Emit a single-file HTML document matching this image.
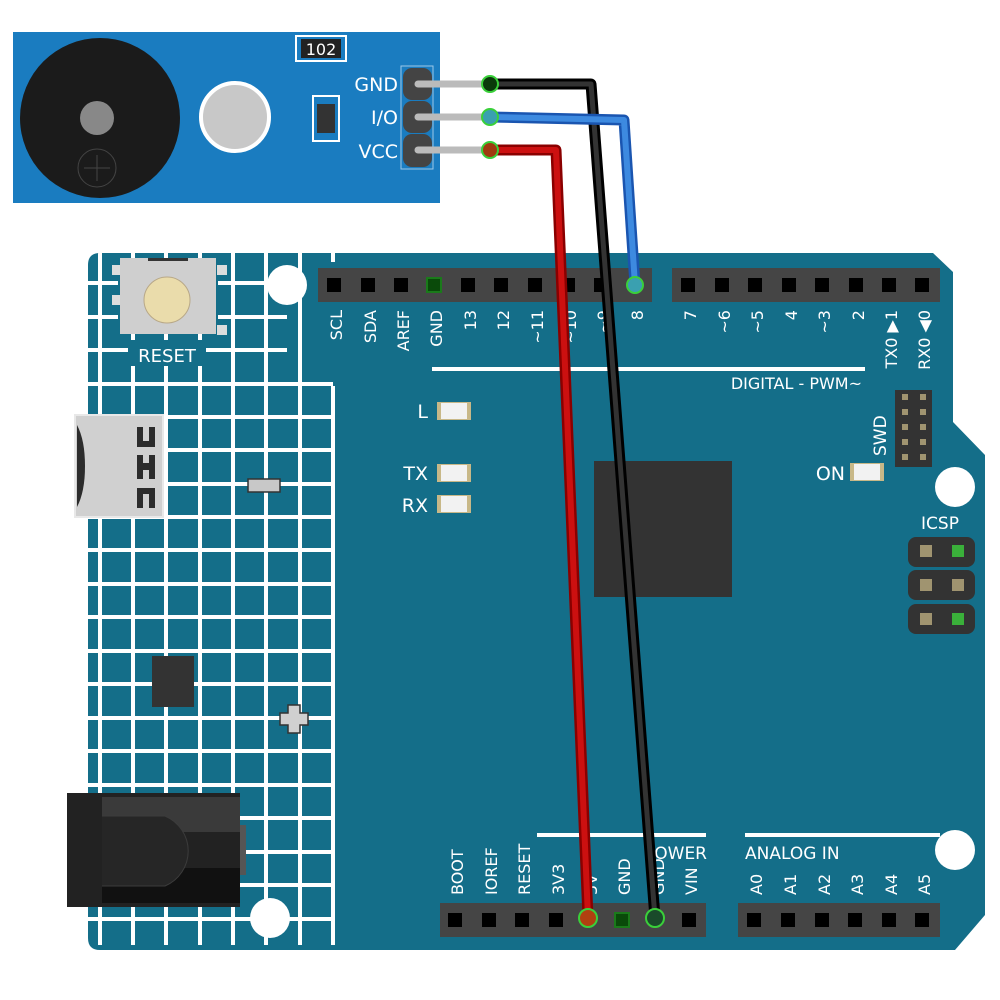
<!DOCTYPE html>
<html><head><meta charset="utf-8"><style>html,body{margin:0;padding:0;background:#fff}svg{display:block}text{font-family:"DejaVu Sans","Liberation Sans",sans-serif;fill:#fff}</style></head>
<body>
<svg width="1000" height="1000" viewBox="0 0 1000 1000" xmlns="http://www.w3.org/2000/svg">
<defs>
<clipPath id="bc"><path d="M100,253 H933 L953,272 V422 L985,455 V915 L955,950 H100 Q88,950 88,938 V265 Q88,253 100,253 Z"/></clipPath>
<g id="pin"><rect x="-15" y="-15" width="30" height="30" fill="#454545"/><rect x="-7" y="-7" width="14" height="14" fill="#000"/></g>
</defs>
<path d="M100,253 H933 L953,272 V422 L985,455 V915 L955,950 H100 Q88,950 88,938 V265 Q88,253 100,253 Z" fill="#146e89"/>
<g clip-path="url(#bc)" stroke="#fff" stroke-width="4">
<g>
<line x1="100" y1="253" x2="100" y2="945"/><line x1="133" y1="253" x2="133" y2="945"/><line x1="166" y1="253" x2="166" y2="945"/><line x1="200" y1="253" x2="200" y2="945"/><line x1="233" y1="253" x2="233" y2="945"/><line x1="266" y1="253" x2="266" y2="945"/><line x1="300" y1="253" x2="300" y2="945"/><line x1="333" y1="386" x2="333" y2="945"/><line x1="333" y1="253" x2="333" y2="262"/>
</g>
<g>
<line x1="88" y1="283" x2="287" y2="283"/><line x1="88" y1="317" x2="287" y2="317"/><line x1="88" y1="350" x2="287" y2="350"/><line x1="88" y1="384" x2="333" y2="384"/>
<line x1="88" y1="417" x2="333" y2="417"/><line x1="88" y1="450" x2="333" y2="450"/><line x1="88" y1="484" x2="333" y2="484"/><line x1="88" y1="517" x2="333" y2="517"/><line x1="88" y1="550" x2="333" y2="550"/><line x1="88" y1="584" x2="333" y2="584"/><line x1="88" y1="617" x2="333" y2="617"/><line x1="88" y1="651" x2="333" y2="651"/><line x1="88" y1="684" x2="333" y2="684"/><line x1="88" y1="718" x2="333" y2="718"/><line x1="88" y1="751" x2="333" y2="751"/><line x1="88" y1="785" x2="333" y2="785"/><line x1="88" y1="818" x2="333" y2="818"/><line x1="88" y1="852" x2="333" y2="852"/><line x1="88" y1="885" x2="333" y2="885"/><line x1="88" y1="919" x2="333" y2="919"/>
</g>
</g>
<rect x="118" y="260" width="100" height="66" fill="#146e89"/>
<rect x="112" y="265" width="10" height="10" fill="#ddd"/><rect x="112" y="295" width="10" height="10" fill="#ddd"/>
<rect x="217" y="265" width="10" height="10" fill="#ddd"/><rect x="217" y="325" width="10" height="10" fill="#ddd"/>
<rect x="120" y="258" width="96" height="76" fill="#cfcfcf"/>
<rect x="148" y="258" width="40" height="3" fill="#333"/>
<circle cx="167" cy="300" r="23" fill="#eadcab" stroke="#b8a888" stroke-width="1"/>
<rect x="128" y="340" width="78" height="26" fill="#146e89"/>
<text x="167" y="362" font-size="18" text-anchor="middle">RESET</text>
<rect x="75" y="415" width="88" height="102" fill="#d0d0d0" stroke="#e8e8e8" stroke-width="2"/>
<path d="M77,425 Q85,440 85,466 Q85,492 77,507 Z" fill="#2c2c2c"/>
<g fill="#2c2c2c"><path d="M137,427 h6 v14 h6 v-14 h6 v20 h-18 z"/><path d="M137,455 h6 v8 h6 v-8 h6 v24 h-6 v-9 h-6 v9 h-6 z"/><path d="M137,508 h6 v-14 h6 v14 h6 v-20 h-18 z"/></g>
<rect x="248" y="479" width="32" height="13" fill="#c8c8c8" stroke="#333" stroke-width="1.5"/>
<rect x="152" y="656" width="42" height="51" fill="#333"/>
<path d="M288,705 h12 v8 h8 v12 h-8 v8 h-12 v-8 h-8 v-12 h8 z" fill="#d0d0d0" stroke="#333" stroke-width="1.5"/>
<rect x="67" y="793" width="173" height="114" fill="#222"/>
<rect x="100" y="797" width="140" height="35" fill="#3a3a3a"/>
<rect x="100" y="868" width="140" height="35" fill="#111"/>
<path d="M100,816 H165 A38,38 0 0 1 165,886 H100 Z" fill="#262626" stroke="#3c3c3c" stroke-width="1"/>
<rect x="67" y="793" width="35" height="114" fill="#222"/>
<rect x="240" y="825" width="6" height="50" fill="#555"/>
<circle cx="287" cy="285" r="20" fill="#fff"/><circle cx="955" cy="487" r="20" fill="#fff"/><circle cx="955" cy="850" r="20" fill="#fff"/><circle cx="270" cy="918" r="20" fill="#fff"/>
<rect x="318" y="268" width="334" height="34" fill="#454545"/>
<rect x="672" y="268" width="268" height="34" fill="#454545"/>
<rect x="440" y="903" width="266" height="34" fill="#454545"/>
<rect x="738" y="903" width="202" height="34" fill="#454545"/>
<g>
<use href="#pin" x="334" y="285"/><use href="#pin" x="368" y="285"/><use href="#pin" x="401" y="285"/><use href="#pin" x="468" y="285"/><use href="#pin" x="501" y="285"/><use href="#pin" x="535" y="285"/><use href="#pin" x="568" y="285"/><use href="#pin" x="601" y="285"/>
<rect x="427" y="278" width="14" height="14" fill="#0a4a0a" stroke="#1a7a1a" stroke-width="2"/>
<use href="#pin" x="688" y="285"/><use href="#pin" x="722" y="285"/><use href="#pin" x="755" y="285"/><use href="#pin" x="789" y="285"/><use href="#pin" x="822" y="285"/><use href="#pin" x="856" y="285"/><use href="#pin" x="889" y="285"/><use href="#pin" x="922" y="285"/>
<use href="#pin" x="455" y="920"/><use href="#pin" x="489" y="920"/><use href="#pin" x="522" y="920"/><use href="#pin" x="556" y="920"/><use href="#pin" x="689" y="920"/>
<rect x="615" y="913" width="14" height="14" fill="#0a4a0a" stroke="#1a7a1a" stroke-width="2"/>
<use href="#pin" x="754" y="920"/><use href="#pin" x="788" y="920"/><use href="#pin" x="822" y="920"/><use href="#pin" x="855" y="920"/><use href="#pin" x="889" y="920"/><use href="#pin" x="922" y="920"/>
</g>
<g font-size="16" text-anchor="end">
<text transform="translate(342,310) rotate(-90)">SCL</text>
<text transform="translate(376,310) rotate(-90)">SDA</text>
<text transform="translate(409,310) rotate(-90)">AREF</text>
<text transform="translate(442,310) rotate(-90)">GND</text>
<text transform="translate(476,310) rotate(-90)">13</text>
<text transform="translate(509,310) rotate(-90)">12</text>
<text transform="translate(543,310) rotate(-90)">~11</text>
<text transform="translate(576,310) rotate(-90)">~10</text>
<text transform="translate(609,310) rotate(-90)">~9</text>
<text transform="translate(643,310) rotate(-90)">8</text>
<text transform="translate(696,310) rotate(-90)">7</text>
<text transform="translate(730,310) rotate(-90)">~6</text>
<text transform="translate(763,310) rotate(-90)">~5</text>
<text transform="translate(797,310) rotate(-90)">4</text>
<text transform="translate(830,310) rotate(-90)">~3</text>
<text transform="translate(864,310) rotate(-90)">2</text>
<text transform="translate(897,310) rotate(-90)">TX0 ▶1</text>
<text transform="translate(930,310) rotate(-90)">RX0 ◀0</text>
</g>
<rect x="432" y="367" width="433" height="4" fill="#fff"/>
<text x="862" y="389" font-size="16" text-anchor="end">DIGITAL - PWM~</text>
<g font-size="19">
<text x="428" y="418" text-anchor="end">L</text>
<text x="428" y="480" text-anchor="end">TX</text>
<text x="428" y="512" text-anchor="end">RX</text>
<text x="845" y="480" text-anchor="end">ON</text>
</g>
<g fill="#c8b888"><rect x="437" y="402" width="34" height="18"/><rect x="437" y="464" width="34" height="18"/><rect x="437" y="495" width="34" height="18"/><rect x="850" y="463" width="34" height="18"/></g>
<g fill="#f2f2f2"><rect x="441" y="403" width="26" height="16"/><rect x="441" y="465" width="26" height="16"/><rect x="441" y="496" width="26" height="16"/><rect x="854" y="464" width="26" height="16"/></g>
<rect x="594" y="461" width="138" height="136" fill="#333"/>
<rect x="895" y="390" width="37" height="77" fill="#333"/>
<g fill="#a09470"><rect x="902" y="394" width="6" height="6"/><rect x="920" y="394" width="6" height="6"/><rect x="902" y="409" width="6" height="6"/><rect x="920" y="409" width="6" height="6"/><rect x="902" y="424" width="6" height="6"/><rect x="920" y="424" width="6" height="6"/><rect x="902" y="439" width="6" height="6"/><rect x="920" y="439" width="6" height="6"/><rect x="902" y="454" width="6" height="6"/><rect x="920" y="454" width="6" height="6"/></g>
<text transform="translate(886,456) rotate(-90)" font-size="17">SWD</text>
<text x="940" y="529" font-size="17" text-anchor="middle">ICSP</text>
<g fill="#333"><rect x="908" y="537" width="67" height="30" rx="8"/><rect x="908" y="570" width="67" height="30" rx="8"/><rect x="908" y="604" width="67" height="30" rx="8"/></g>
<g fill="#a09470"><rect x="920" y="545" width="12" height="12"/><rect x="920" y="579" width="12" height="12"/><rect x="952" y="579" width="12" height="12"/><rect x="920" y="613" width="12" height="12"/></g>
<g fill="#3ab03a"><rect x="952" y="545" width="12" height="12"/><rect x="952" y="613" width="12" height="12"/></g>
<rect x="537" y="833" width="169" height="4" fill="#fff"/>
<rect x="745" y="833" width="195" height="4" fill="#fff"/>
<text x="707" y="859" font-size="17" text-anchor="end">POWER</text>
<text x="745" y="859" font-size="17">ANALOG IN</text>
<g font-size="16">
<text transform="translate(463,895) rotate(-90)">BOOT</text>
<text transform="translate(497,895) rotate(-90)">IOREF</text>
<text transform="translate(530,895) rotate(-90)">RESET</text>
<text transform="translate(564,895) rotate(-90)">3V3</text>
<text transform="translate(597,895) rotate(-90)">5V</text>
<text transform="translate(630,895) rotate(-90)">GND</text>
<text transform="translate(664,895) rotate(-90)">GND</text>
<text transform="translate(697,895) rotate(-90)">VIN</text>
<text transform="translate(762,895) rotate(-90)">A0</text>
<text transform="translate(796,895) rotate(-90)">A1</text>
<text transform="translate(830,895) rotate(-90)">A2</text>
<text transform="translate(863,895) rotate(-90)">A3</text>
<text transform="translate(897,895) rotate(-90)">A4</text>
<text transform="translate(930,895) rotate(-90)">A5</text>
</g>
<rect x="13" y="32" width="427" height="171" fill="#1a7cc0"/>
<circle cx="100" cy="118" r="80" fill="#1b1b1b"/>
<circle cx="97" cy="118" r="17" fill="#888"/>
<circle cx="97" cy="168" r="19" fill="none" stroke="#444" stroke-width="1"/>
<line x1="84" y1="168" x2="110" y2="168" stroke="#444"/><line x1="97" y1="155" x2="97" y2="181" stroke="#444"/>
<circle cx="235" cy="117" r="34" fill="#c8c8c8" stroke="#fff" stroke-width="4"/>
<rect x="296" y="36" width="50" height="25" fill="none" stroke="#fff" stroke-width="2"/>
<rect x="301" y="39" width="40" height="19" fill="#222"/>
<text x="321" y="55" font-size="16" text-anchor="middle">102</text>
<rect x="313" y="96" width="26" height="45" fill="none" stroke="#fff" stroke-width="2"/>
<rect x="317" y="104" width="18" height="29" fill="#333"/>
<rect x="401" y="66" width="32" height="103" fill="none" stroke="#9cc8e8" stroke-width="1"/>
<g fill="#444"><rect x="403" y="68" width="29" height="32" rx="9"/><rect x="403" y="101" width="29" height="32" rx="9"/><rect x="403" y="134" width="29" height="33" rx="9"/></g>
<g font-size="19" text-anchor="end"><text x="398" y="91">GND</text><text x="398" y="124">I/O</text><text x="398" y="158">VCC</text></g>
<g stroke="#bbb" stroke-width="7" stroke-linecap="round"><line x1="418" y1="84" x2="488" y2="84"/><line x1="418" y1="117" x2="488" y2="117"/><line x1="418" y1="150" x2="488" y2="150"/></g>
<g fill="none" stroke-width="11" stroke-linejoin="round" stroke-linecap="round">
<polyline points="490,150 556,150 588,918" stroke="#8a0000"/>
<polyline points="490,150 556,150 588,918" stroke="#cc1010" stroke-width="6"/>
<polyline points="490,84 591,84 655,918" stroke="#000"/>
<polyline points="490,84 591,84 655,918" stroke="#333" stroke-width="5"/>
<polyline points="490,117 624,120 635,285" stroke="#1a55b0"/>
<polyline points="490,117 624,120 635,285" stroke="#3d8ae0" stroke-width="6"/>
</g>
<g stroke="#3ad03a" stroke-width="2">
<circle cx="490" cy="84" r="8" fill="#0a3a0a"/><circle cx="490" cy="117" r="8" fill="#3aa0b0"/><circle cx="490" cy="150" r="8" fill="#a03a10"/>
<circle cx="635" cy="285" r="8" fill="#3aa0b0"/><circle cx="588" cy="918" r="9" fill="#b04010"/><circle cx="655" cy="918" r="9" fill="#1a4a2a"/>
</g>
</svg>
</body></html>
